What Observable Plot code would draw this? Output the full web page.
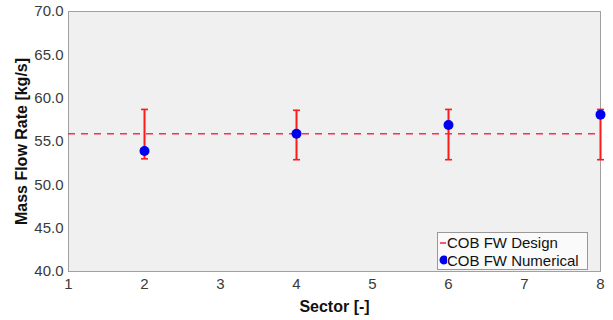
<!DOCTYPE html>
<html><head><meta charset="utf-8">
<script src="https://cdn.jsdelivr.net/npm/d3@7"></script>
<script src="https://cdn.jsdelivr.net/npm/@observablehq/plot@0.6"></script>
<style>
body{margin:0;background:#fff;font-family:"Liberation Sans",Arial,sans-serif;}
#wrap{position:relative;width:613px;height:320px;}
#legend{position:absolute;left:437px;top:232px;width:151px;height:38px;border:1px solid #999;background:#fafafa;font-size:15px;line-height:17.5px;color:#111;box-sizing:border-box;padding:1px 0 0 1px;}
#legend .row{display:flex;align-items:center;white-space:nowrap;}
#legend .sw{width:8px;display:inline-flex;justify-content:center;align-items:center;}
</style></head><body>
<div id="wrap"></div>
<script>
const sectors = [2, 4, 6, 8];
const numerical = [53.9, 55.9, 56.9, 58.1];
const errLow = [53.0, 52.9, 52.9, 52.9];
const errHigh = [58.7, 58.6, 58.7, 58.7];
const designValue = 55.9;
const xTicks = [1, 2, 3, 4, 5, 6, 7, 8];
const yTicks = [40, 45, 50, 55, 60, 65, 70];
const seriesNames = ["COB FW Design", "COB FW Numerical"];

const data = sectors.map((s, i) => ({sector: s, value: numerical[i], lo: errLow[i], hi: errHigh[i]}));
const cap = {draw(ctx, size) { const w = 3.5; ctx.moveTo(-w, 0); ctx.lineTo(w, 0); }};

const chart = Plot.plot({
  width: 613, height: 320,
  marginLeft: 68, marginRight: 13, marginTop: 11, marginBottom: 49,
  style: {fontFamily: "Liberation Sans, Arial, sans-serif", fontSize: "15px", color: "#333", background: "#fff"},
  x: {domain: [1, 8], ticks: xTicks, tickFormat: d3.format("d"), tickSize: 0, tickPadding: 7, label: "Sector [-]", labelArrow: "none", labelAnchor: "center", labelOffset: 40},
  y: {domain: [40, 70], ticks: yTicks, tickFormat: d3.format(".1f"), tickSize: 0, tickPadding: 5, label: "Mass Flow Rate [kg/s]", labelArrow: "none", labelAnchor: "center", labelOffset: 53},
  marks: [
    Plot.frame({fill: "#f0f0f0", stroke: "#a0a0a0"}),
    Plot.ruleY([designValue], {stroke: "#ff2a55", strokeWidth: 1.6, strokeDasharray: "7,6"}),
    Plot.ruleX(data, {x: "sector", y1: "lo", y2: "hi", stroke: "#ff1a1a", strokeWidth: 2}),
    Plot.dot(data, {x: "sector", y: "lo", symbol: cap, stroke: "#ff1a1a", strokeWidth: 1.6}),
    Plot.dot(data, {x: "sector", y: "hi", symbol: cap, stroke: "#ff1a1a", strokeWidth: 1.6}),
    Plot.dot(data, {x: "sector", y: "value", r: 5, fill: "#0000ee", stroke: "none"})
  ]
});
const svg = d3.select(chart);
svg.selectAll("[aria-label='x-axis label'] text, [aria-label='y-axis label'] text")
  .style("font-weight", "bold").style("font-size", "16px").style("fill", "#111");
svg.selectAll("[aria-label='x-axis tick label'] text, [aria-label='y-axis tick label'] text").style("fill", "#3a3a3a");
document.getElementById("wrap").appendChild(chart);

const legend = document.createElement("div");
legend.id = "legend";
legend.innerHTML =
  `<div class="row"><span class="sw"><svg width="8" height="4"><line x1="1" x2="7" y1="2" y2="2" stroke="#ff2a55" stroke-width="1.6"/></svg></span>${seriesNames[0]}</div>` +
  `<div class="row"><span class="sw"><svg width="10" height="10"><circle cx="5" cy="5" r="4.5" fill="#0000ee"/></svg></span>${seriesNames[1]}</div>`;
document.getElementById("wrap").appendChild(legend);
</script>
</body></html>
